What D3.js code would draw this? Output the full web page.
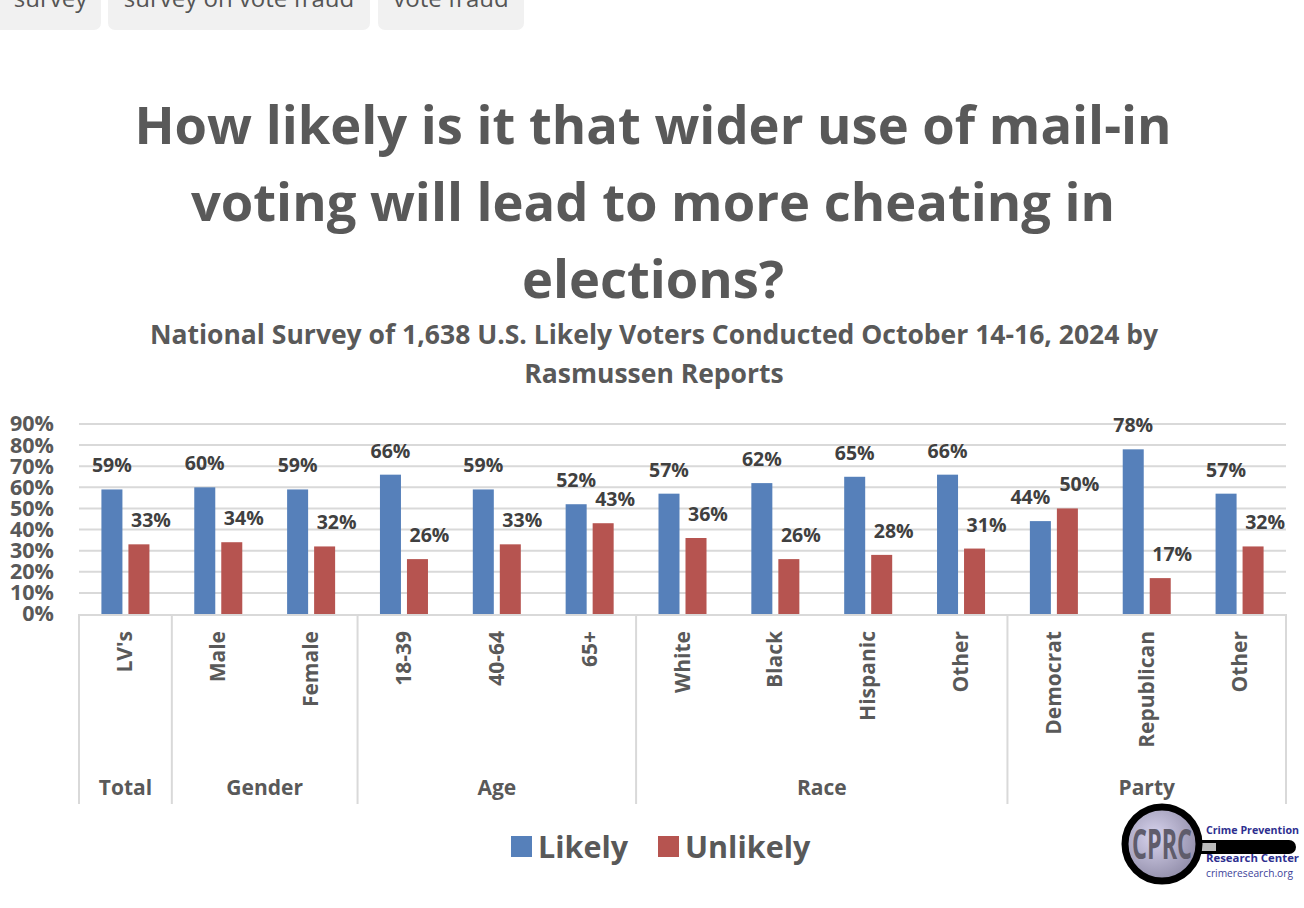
<!DOCTYPE html>
<html>
<head>
<meta charset="utf-8">
<script src="https://cdn.jsdelivr.net/npm/d3@7"></script>
<style>
  html, body { margin: 0; padding: 0; background: #ffffff; }
  svg { display: block; }
  text { font-family: "Open Sans", "Noto Sans", sans-serif; }
</style>
</head>
<body>
<svg id="chart" width="1304" height="908"></svg>
<script>
// ---------------- data ----------------
const categories = ["LV's", "Male", "Female", "18-39", "40-64", "65+", "White", "Black", "Hispanic", "Other", "Democrat", "Republican", "Other "];
const groups = ["Total", "Gender", "Age", "Race", "Party"];
const groupSizes = [1, 2, 3, 4, 3];
const series = ["Likely", "Unlikely"];
const likely = [59, 60, 59, 66, 59, 52, 57, 62, 65, 66, 44, 78, 57];
const unlikely = [33, 34, 32, 26, 33, 43, 36, 26, 28, 31, 50, 17, 32];
const yTicks = [0, 10, 20, 30, 40, 50, 60, 70, 80, 90];
const tags = ["survey", "survey on vote fraud", "vote fraud"];
const titleLines = ["How likely is it that wider use of mail-in", "voting will lead to more cheating in", "elections?"];
const subtitleLines = ["National Survey of 1,638 U.S. Likely Voters Conducted October 14-16, 2024 by", "Rasmussen Reports"];

const colors = { Likely: "#5680BA", Unlikely: "#B65450" };
const textGray = "#595959";

const svg = d3.select("#chart");

// ---------------- top tags ----------------
const tagBoxes = [[-12, 101], [108, 370], [378, 524]];
tags.forEach((t, i) => {
  const [bx0, bx1] = tagBoxes[i];
  svg.append("rect").attr("x", bx0).attr("y", -20).attr("width", bx1 - bx0).attr("height", 50)
    .attr("rx", 7).attr("fill", "#f1f1f1");
  svg.append("text").attr("x", (Math.max(bx0, 0) + bx1) / 2)
    .attr("y", 7).attr("text-anchor", "middle").attr("font-size", 24).attr("fill", "#555")
    .text(t);
});

// ---------------- titles ----------------
titleLines.forEach((l, i) => {
  svg.append("text").attr("x", 653).attr("y", 144 + i * 77)
    .attr("text-anchor", "middle").attr("font-size", 52.5).attr("font-weight", 700)
    .attr("fill", textGray).text(l);
});
subtitleLines.forEach((l, i) => {
  svg.append("text").attr("x", 654).attr("y", 344 + i * 39)
    .attr("text-anchor", "middle").attr("font-size", 26.5).attr("font-weight", 700)
    .attr("fill", textGray).text(l);
});

// ---------------- scales ----------------
const plotL = 79, plotR = 1286, plotT = 424, plotB = 614;
const x0 = d3.scaleBand().domain(categories).range([plotL, plotR]).paddingInner(0).paddingOuter(0);
const x1 = d3.scaleBand().domain(series).range([0, x0.bandwidth()]).paddingInner(0.222).paddingOuter(0.83);
const y = d3.scaleLinear().domain([0, 90]).range([plotB, plotT]);

// gridlines
svg.append("g").selectAll("line").data(yTicks.slice(1)).join("line")
  .attr("x1", plotL).attr("x2", plotR)
  .attr("y1", d => y(d)).attr("y2", d => y(d))
  .attr("stroke", "#d9d9d9").attr("stroke-width", 2);

// y axis labels
const yAxis = d3.axisLeft(y).tickValues(yTicks).tickFormat(d => d + "%").tickSize(0).tickPadding(0);
const yg = svg.append("g").attr("transform", `translate(54,0)`).call(yAxis);
yg.select(".domain").remove();
yg.selectAll("text").attr("font-size", 21.5).attr("font-weight", 700).attr("fill", textGray)
  .attr("font-family", "'Open Sans', sans-serif");

// bars
const rows = categories.map((c, i) => ({ cat: c, vals: [{ s: "Likely", v: likely[i] }, { s: "Unlikely", v: unlikely[i] }] }));
const cg = svg.append("g").selectAll("g").data(rows).join("g")
  .attr("transform", d => `translate(${x0(d.cat)},0)`);
cg.selectAll("rect").data(d => d.vals).join("rect")
  .attr("x", d => x1(d.s)).attr("width", x1.bandwidth())
  .attr("y", d => y(d.v)).attr("height", d => y(0) - y(d.v))
  .attr("fill", d => colors[d.s]);

// data labels
cg.selectAll("text.val").data((d, i) => d.vals.map(v => ({ ...v, i }))).join("text")
  .attr("class", "val")
  .attr("x", d => x1(d.s) + x1.bandwidth() / 2 + (d.s === "Unlikely" ? 12 : (d.i === 10 ? -10 : 0)))
  .attr("y", d => y(d.v) - 17)
  .attr("text-anchor", "middle").attr("font-size", 19.5).attr("font-weight", 700)
  .attr("fill", "#404040").text(d => d.v + "%");

// baseline
svg.append("line").attr("x1", plotL).attr("x2", plotR).attr("y1", plotB + 1).attr("y2", plotB + 1)
  .attr("stroke", "#d9d9d9").attr("stroke-width", 2);

// category labels (rotated)
svg.append("g").selectAll("text").data(categories).join("text")
  .attr("transform", d => `translate(${x0(d) + x0.bandwidth() / 2 + 7},631) rotate(-90)`)
  .attr("text-anchor", "end").attr("font-size", 21).attr("font-weight", 700)
  .attr("fill", textGray).text(d => d.trim());

// group separators and labels
let idx = 0;
const sepXs = [plotL];
const groupInfo = [];
groupSizes.forEach((n, gi) => {
  const start = x0(categories[idx]);
  const end = x0(categories[idx + n - 1]) + x0.bandwidth();
  groupInfo.push({ name: groups[gi], mid: (start + end) / 2 });
  sepXs.push(end);
  idx += n;
});
svg.append("g").selectAll("line").data(sepXs).join("line")
  .attr("x1", d => d).attr("x2", d => d).attr("y1", plotB).attr("y2", 804)
  .attr("stroke", "#d9d9d9").attr("stroke-width", 2);
svg.append("g").selectAll("text").data(groupInfo).join("text")
  .attr("x", d => d.mid).attr("y", 795).attr("text-anchor", "middle")
  .attr("font-size", 21).attr("font-weight", 700).attr("fill", textGray).text(d => d.name);

// ---------------- legend ----------------
const legend = svg.append("g");
const legX = [511, 658];
series.forEach((s, i) => {
  legend.append("rect").attr("x", legX[i]).attr("y", 836).attr("width", 21).attr("height", 21).attr("fill", colors[s]);
  legend.append("text").attr("x", legX[i] + 27).attr("y", 858).attr("font-size", 30.5).attr("font-weight", 700)
    .attr("fill", textGray).text(s);
});

// ---------------- CPRC logo ----------------
const logo = svg.append("g");
const defs = svg.append("defs");
const rg = defs.append("radialGradient").attr("id", "lens").attr("cx", "40%").attr("cy", "40%").attr("r", "65%");
rg.append("stop").attr("offset", "0%").attr("stop-color", "#d8d4ee");
rg.append("stop").attr("offset", "100%").attr("stop-color", "#8e8aa6");
logo.append("rect").attr("x", 1190).attr("y", 840).attr("width", 106).attr("height", 14).attr("rx", 7).attr("fill", "#000");
logo.append("rect").attr("x", 1196).attr("y", 843).attr("width", 20).attr("height", 8).attr("fill", "#bbb");
logo.append("circle").attr("cx", 1162).attr("cy", 844).attr("r", 37).attr("fill", "url(#lens)")
  .attr("stroke", "#000").attr("stroke-width", 7);
logo.append("text").attr("transform", "translate(1162,859) scale(1,1.5)")
  .attr("text-anchor", "middle").attr("font-size", 27).attr("font-weight", 700)
  .attr("font-family", "'Liberation Sans Narrow', 'DejaVu Sans Condensed', sans-serif")
  .attr("fill", "#5f5c6b").attr("textLength", 60).attr("lengthAdjust", "spacingAndGlyphs").text("CPRC");
logo.append("text").attr("x", 1206).attr("y", 834).attr("font-size", 10.5).attr("font-weight", 700)
  .attr("fill", "#2e2f8f").attr("textLength", 93).attr("lengthAdjust", "spacingAndGlyphs").text("Crime Prevention");
logo.append("text").attr("x", 1206).attr("y", 862).attr("font-size", 11).attr("font-weight", 700)
  .attr("fill", "#2e2f8f").attr("textLength", 93).attr("lengthAdjust", "spacingAndGlyphs").text("Research Center");
logo.append("text").attr("x", 1206).attr("y", 877).attr("font-size", 10).attr("fill", "#3d3f9a")
  .attr("textLength", 87).attr("lengthAdjust", "spacingAndGlyphs").text("crimeresearch.org");
</script>
</body>
</html>
